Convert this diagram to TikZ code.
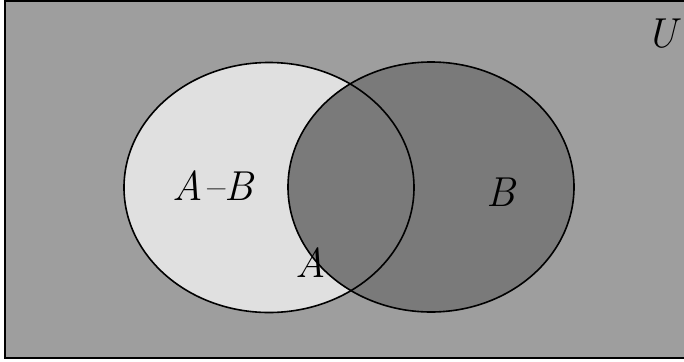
\documentclass[tikz,border=0pt]{standalone}
\begin{document}
\begin{tikzpicture}[x=1bp,y=-1bp,
  lbl/.style={font=\fontsize{42}{44}\selectfont\itshape, inner sep=0pt},
  edge/.style={line width=1.6bp, draw=black}]
\useasboundingbox (0,0) rectangle (684,361);
\fill[white] (0,0) rectangle (684,361);
\fill[black!38] (5,1) rectangle (684,358);
\draw[edge] (684,1) -- (5,1) -- (5,358) -- (684,358);
% A light
\fill[black!12] (269,187.5) ellipse [x radius=145, y radius=125];
% B dark (covers intersection)
\fill[black!52] (431,187) ellipse [x radius=143, y radius=125];
\draw[edge] (269,187.5) ellipse [x radius=145, y radius=125];
\draw[edge] (431,187) ellipse [x radius=143, y radius=125];
\node[lbl] (ab) at (213,186) {A--B};
\node[lbl] (b) at (501,192) {B};
\node[lbl] (a) at (311,263) {A};
\node[lbl] (u) at (662,34) {U};
\end{tikzpicture}
\end{document}
